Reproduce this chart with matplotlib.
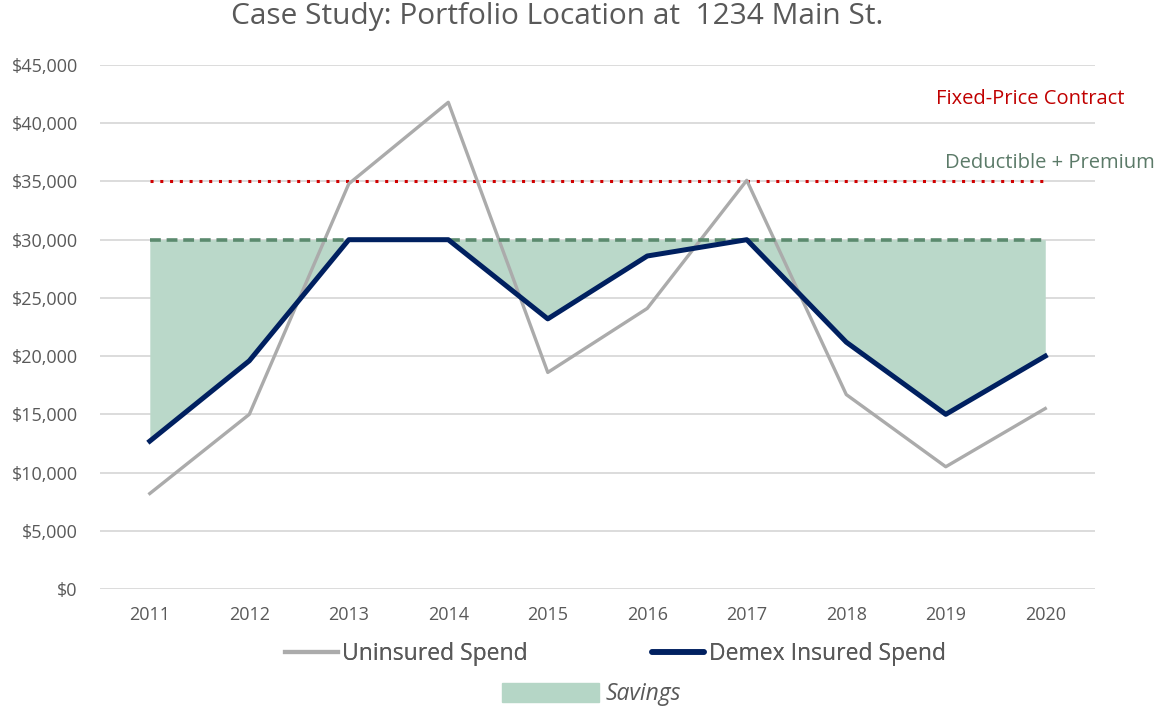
import matplotlib.pyplot as plt
from matplotlib.lines import Line2D
from matplotlib.patches import Patch

# Datos del gráfico
years = ['2011', '2012', '2013', '2014', '2015', '2016', '2017', '2018', '2019', '2020']
uninsured = [8200, 15000, 34800, 41800, 18600, 24100, 35100, 16700, 10500, 15500]
demex = [12700, 19600, 30000, 30000, 23200, 28600, 30000, 21200, 15000, 20000]
fixed_price = 35000
deductible = 30000
y_ticks = [0, 5000, 10000, 15000, 20000, 25000, 30000, 35000, 40000, 45000]

plt.rcParams['font.family'] = ['Open Sans', 'DejaVu Sans']

fig = plt.figure(figsize=(11.58, 7.07), dpi=100)
ax = fig.add_axes([0.0864, 0.1669, 0.8592, 0.7411])

x = list(range(len(years)))

# Área de ahorro entre la línea del deducible y el gasto asegurado
ax.fill_between(x, demex, [deductible] * len(x), color='#BAD8C9', linewidth=0, zorder=1)

ax.plot(x, [fixed_price] * len(x), color='#D00000', linestyle=(0, (1, 2.2)),
        linewidth=2.2, zorder=2)
ax.plot(x, [deductible] * len(x), color='#5B8A6E', linestyle=(0, (3, 1.6)),
        linewidth=2.6, zorder=4)
ax.plot(x, uninsured, color='#ABABAB', linewidth=2.4, zorder=3)
ax.plot(x, demex, color='#002060', linewidth=3.6, zorder=5)

ax.set_xlim(-0.5, 9.5)
ax.set_ylim(0, 45000)
ax.set_xticks(x)
ax.set_xticklabels(years)
ax.set_yticks(y_ticks)
ax.set_yticklabels(['${:,}'.format(v) for v in y_ticks])
ax.tick_params(axis='both', length=0, labelsize=13, colors='#595959')
ax.tick_params(axis='x', pad=12)
ax.tick_params(axis='y', pad=16)
ax.grid(axis='y', color='#D9D9D9', linewidth=1.3, zorder=0)
ax.set_axisbelow(True)
for s in ax.spines.values():
    s.set_visible(False)

ax.text(9.8, 42050, 'Fixed-Price Contract', color='#C00000', fontsize=14.5,
        ha='right', va='center')
ax.text(10.1, 36550, 'Deductible + Premium', color='#5B7A68', fontsize=14.5,
        ha='right', va='center', clip_on=False)

fig.suptitle('Case Study: Portfolio Location at  1234 Main St.', x=0.481, y=0.997,
             fontsize=21.5, color='#595959', va='top')

# Leyendas
handles1 = [Line2D([0], [0], color='#ABABAB', linewidth=3),
            Line2D([0], [0], color='#002060', linewidth=4, solid_capstyle='round')]
leg1 = fig.legend(handles1, ['Uninsured Spend', 'Demex Insured Spend'], loc='center',
                  bbox_to_anchor=(0.5315, 0.075), ncol=2, frameon=False, fontsize=16.5,
                  handlelength=2.3, handletextpad=0.2, columnspacing=5.4,
                  labelcolor='#595959')
leg2 = fig.legend([Patch(color='#B5D6C6')], ['Savings'], loc='center',
                  bbox_to_anchor=(0.511, 0.018), frameon=False,
                  handlelength=4.2, handleheight=0.9, handletextpad=0.3,
                  prop={'style': 'italic', 'size': 16.5}, labelcolor='#595959')
fig.add_artist(leg1)

fig.savefig('out.png', dpi=100)
